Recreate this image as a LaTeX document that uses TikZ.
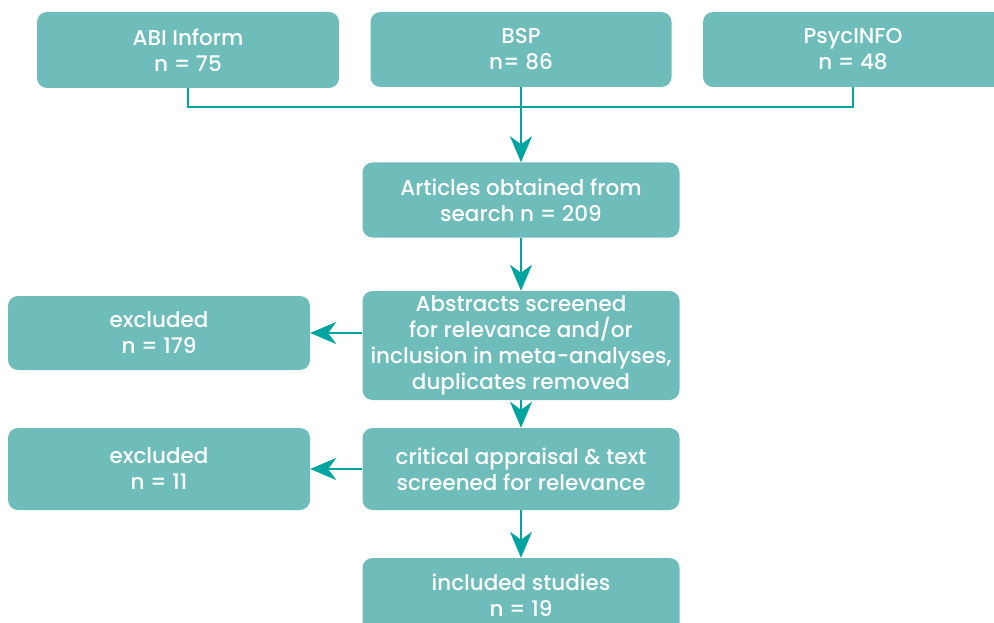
\documentclass[tikz,border=0pt]{standalone}
\usepackage{fontspec}
\setmainfont{Poppins}[UprightFont = * Medium]
\usetikzlibrary{arrows.meta}
\definecolor{boxfill}{HTML}{6FBDBB}
\definecolor{linecol}{HTML}{00A5A0}
\begin{document}
\begin{tikzpicture}[x=1pt,y=-1pt,
 box/.style={fill=boxfill, rounded corners=10pt, text=white, align=center, font=\fontsize{21.5}{26}\selectfont, inner sep=0pt},
 conn/.style={draw=linecol, line width=2.8pt},
 arr/.style={conn, -{Stealth[length=26pt,width=22pt,inset=8pt]}}]
\clip (0,0) rectangle (994,623);
\fill[white] (0,0) rectangle (994,623);
\node[box, minimum width=302pt, minimum height=76pt] (abi) at (188,50) {ABI Inform\\n = 75};
\node[box, minimum width=301pt, minimum height=75pt] (bsp) at (521,49.5) {BSP\\n= 86};
\node[box, minimum width=300pt, minimum height=75pt] (psyc) at (853,49.5) {PsycINFO\\n = 48};
\node[box, minimum width=317pt, minimum height=75pt] (art) at (521,200) {Articles obtained from\\search n = 209};
\node[box, minimum width=317pt, minimum height=109pt] (abs) at (521,345.5) {Abstracts screened\\for relevance and/or\\inclusion in meta-analyses,\\duplicates removed};
\node[box, minimum width=302pt, minimum height=74pt] (ex1) at (159,333) {excluded\\n = 179};
\node[box, minimum width=317pt, minimum height=82pt] (crit) at (521,469) {critical appraisal \& text\\screened for relevance};
\node[box, minimum width=302pt, minimum height=82pt] (ex2) at (159,469) {excluded\\n = 11};
\node[box, minimum width=317pt, minimum height=74pt] (inc) at (521,595) {included studies\\n = 19};
\coordinate (hl) at (521,107);
\draw[conn] (abi.south) |- (hl) -| (psyc.south);
\draw[arr] (bsp.south) -- (art.north);
\draw[arr] (art.south) -- (abs.north);
\draw[arr] (abs.south) -- (crit.north);
\draw[arr] (crit.south) -- (inc.north);
\draw[arr] (abs.west |- ex1.east) -- (ex1.east);
\draw[arr] (crit.west) -- (ex2.east);
\end{tikzpicture}
\end{document}
